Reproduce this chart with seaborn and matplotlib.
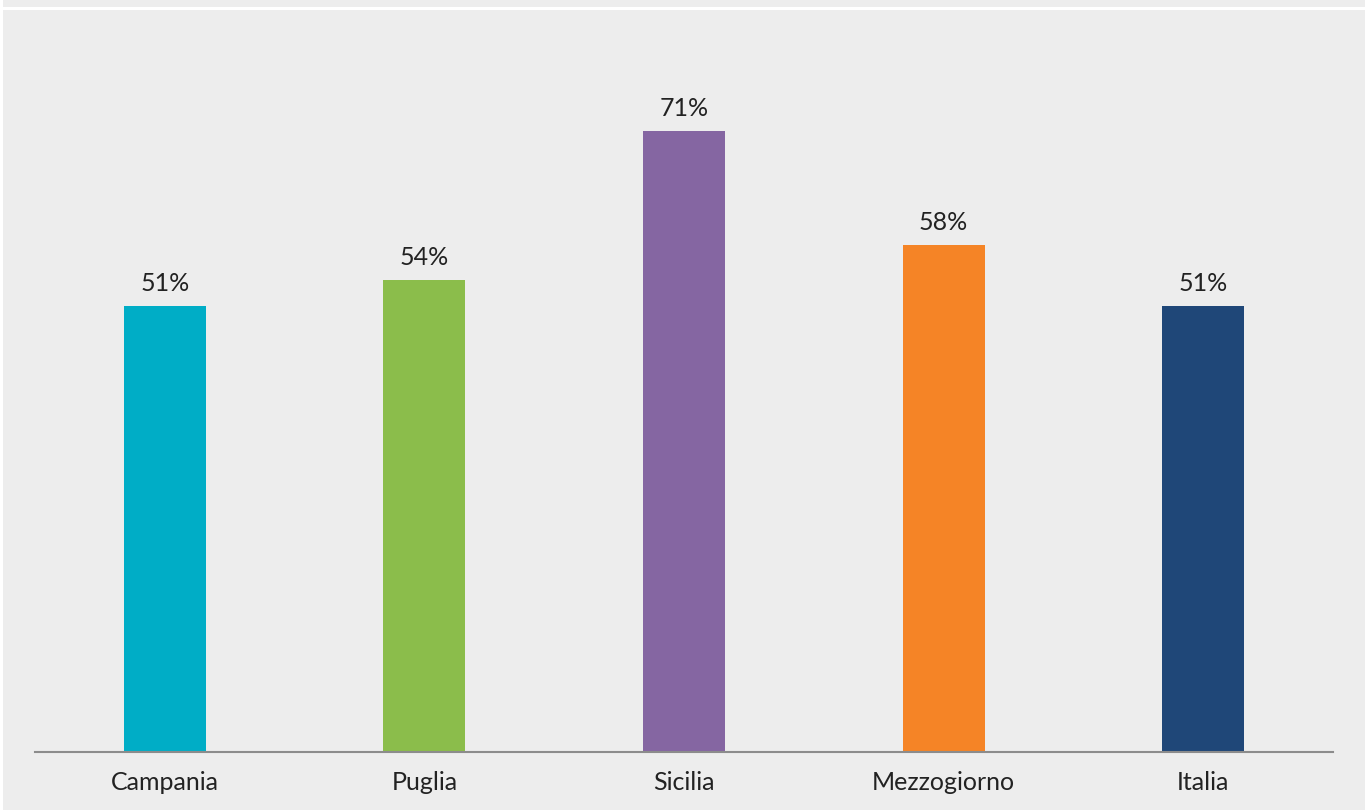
import matplotlib
matplotlib.use('Agg')
import matplotlib.pyplot as plt
import seaborn as sns
import pandas as pd
from matplotlib.patches import Rectangle

regions = ['Campania', 'Puglia', 'Sicilia', 'Mezzogiorno', 'Italia']
values = [51, 54, 71, 58, 51]
colors = ['#00ADC6', '#8BBD4B', '#8566A2', '#F58426', '#1F4778']

bg = '#EDEDED'
sns.set_theme(style='white')
plt.rcParams['font.family'] = ['Lato', 'DejaVu Sans']

df = pd.DataFrame({'region': regions, 'value': values})

fig = plt.figure(figsize=(13.72, 8.10), dpi=100, facecolor='white')
# gray panel background with thin white line near the top
fig.patches.append(Rectangle((3 / 1372, 0), 1362 / 1372, 800 / 810,
                             transform=fig.transFigure, facecolor=bg, edgecolor='none', zorder=-5))
fig.patches.append(Rectangle((3 / 1372, 803 / 810), 1362 / 1372, 7 / 810,
                             transform=fig.transFigure, facecolor=bg, edgecolor='none', zorder=-5))

ax = fig.add_axes([35 / 1372, 58 / 810, 1298 / 1372, 700 / 810])
ax.set_facecolor('none')
sns.barplot(data=df, x='region', y='value', hue='region', palette=colors,
            width=0.316, legend=False, ax=ax, saturation=1, linewidth=0)

ax.set_xlim(-0.5, 4.5)
ax.set_ylim(0, 80)
for s in ['top', 'right', 'left']:
    ax.spines[s].set_visible(False)
ax.spines['bottom'].set_color('#8C8C8C')
ax.spines['bottom'].set_linewidth(1.5)
ax.set_yticks([])
ax.set_xlabel('')
ax.set_ylabel('')
ax.tick_params(axis='x', length=0, pad=14, labelsize=18, labelcolor='#222222')

for i, v in enumerate(values):
    ax.text(i, v + 1.2, f'{v}%', ha='center', va='bottom', fontsize=18,
            color='#222222')

fig.savefig('out.png', dpi=100, facecolor=fig.get_facecolor())
